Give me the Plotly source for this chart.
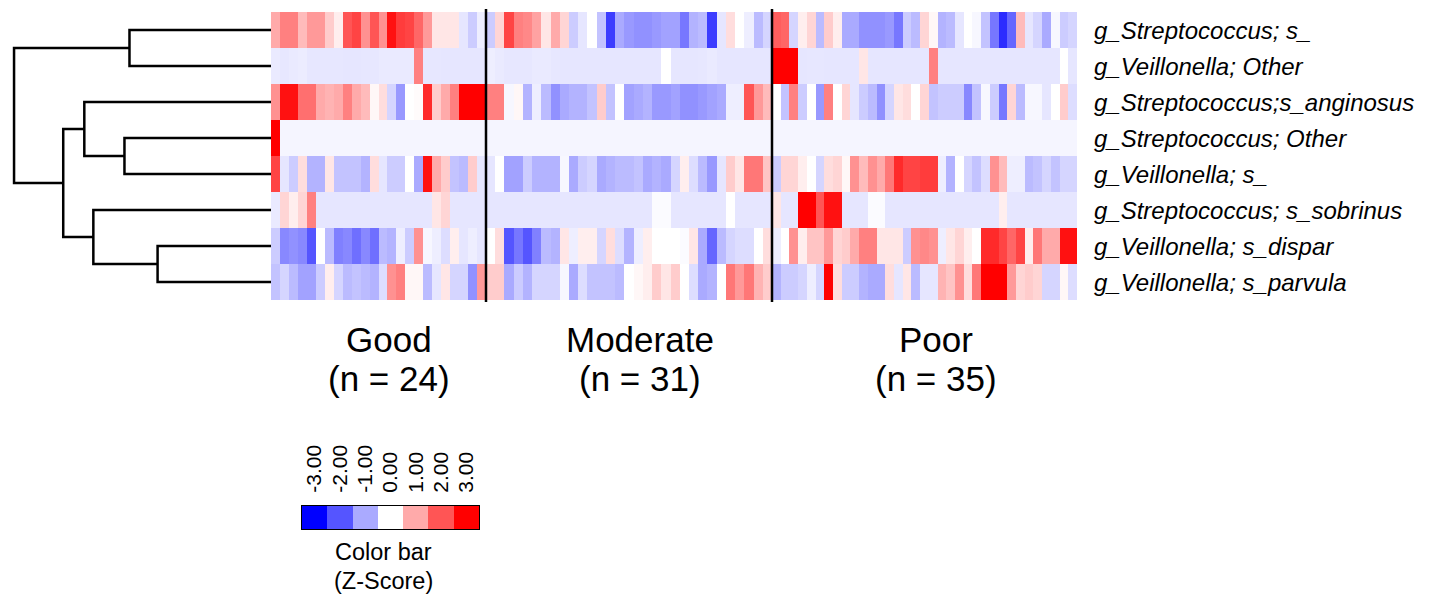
import plotly.graph_objects as go

W, H = 1444, 594

row_labels = [
    "g_Streptococcus; s_",
    "g_Veillonella; Other",
    "g_Streptococcus;s_anginosus",
    "g_Streptococcus; Other",
    "g_Veillonella; s_",
    "g_Streptococcus; s_sobrinus",
    "g_Veillonella; s_dispar",
    "g_Veillonella; s_parvula",
]

group_names = ["Good", "Moderate", "Poor"]
group_sizes = [24, 31, 35]

good = [
    [1.0, 1.5, 1.5, 0.8, 1.2, 1.2, 0.6, 0.2, 2.0, 2.2, 1.3, 2.0, 1.3, 2.8, 2.3, 2.2, 1.8, 1.2, 0.3, 0.3, 0.3, -0.3, -0.6, -0.2],
    [-0.25, -0.28, -0.25, -0.22, -0.28, -0.28, -0.28, -0.28, -0.3, -0.3, -0.28, -0.28, -0.25, -0.25, -0.25, -0.25, 1.5, -0.28, -0.28, -0.3, -0.3, -0.3, -0.3, -0.3],
    [1.3, 2.8, 2.8, 1.7, 1.7, 1.0, 0.9, 1.0, 1.5, 1.0, 0.8, 0.1, 0.4, -0.5, -1.2, 0.0, 0.05, 2.5, 0.6, 1.0, 1.5, 3.0, 3.0, 3.0],
    [3.0, -0.12, -0.12, -0.12, -0.12, -0.12, -0.12, -0.12, -0.12, -0.12, -0.12, -0.12, -0.12, -0.12, -0.12, -0.12, -0.12, -0.12, -0.12, -0.12, -0.12, -0.12, -0.12, -0.12],
    [2.2, -0.3, -0.6, 0.4, -0.9, -0.9, 0.3, -0.7, -0.7, -0.7, -0.9, 0.4, -0.3, -0.6, -0.6, 0.0, -1.0, 2.8, 1.0, 0.6, -0.7, -0.8, 0.6, -0.3],
    [-0.25, 0.5, 0.2, 0.5, 1.5, -0.3, -0.3, -0.3, -0.3, -0.3, -0.3, -0.3, -0.3, -0.3, -0.3, -0.3, -0.3, -0.3, 0.3, 0.5, -0.3, -0.3, -0.3, -0.3],
    [-0.6, -1.4, -1.3, -1.4, -2.0, 0.0, -0.8, -1.5, -1.4, -1.7, -1.4, -1.7, -0.8, -0.9, -0.2, -0.6, 1.3, -0.1, -0.2, -0.4, 0.2, -0.3, -0.2, -0.3],
    [-0.7, -0.5, -0.8, -1.1, -1.1, -0.6, 0.2, -0.5, -0.8, -0.7, -0.8, -0.9, -0.4, 1.3, 1.5, 0.1, 0.1, -0.8, -0.3, 0.3, -0.5, -0.5, -1.3, 1.2],
]

moderate = [
    [-0.6, 0.5, 2.2, 1.5, 1.4, 1.1, 0.3, 1.0, 0.5, -0.6, -0.3, 0.0, -0.7, -2.3, -1.0, -1.2, -1.3, -1.3, -1.2, -1.1, -1.1, -1.6, -0.9, -0.8, -2.3, -0.3, 0.4, 0.0, -0.2, -0.8, -0.5],
    [-0.2, -0.25, -0.28, -0.28, -0.28, -0.25, -0.25, -0.28, -0.3, -0.3, -0.3, -0.3, -0.3, -0.3, -0.3, -0.3, -0.3, -0.3, -0.3, 0.0, -0.3, -0.3, -0.3, -0.28, -0.25, -0.3, -0.3, -0.3, -0.3, -0.3, -0.3],
    [1.5, 1.5, -0.1, 0.1, -0.9, -0.2, -0.8, -1.3, -1.0, -0.9, -0.9, -0.7, 0.6, -0.7, 0.0, -1.1, -1.0, -0.9, -1.2, -1.2, -1.1, -1.3, -1.3, -1.2, -1.1, -1.0, -0.2, -0.2, 2.0, 1.2, 0.8],
    [-0.12, -0.12, -0.12, -0.12, -0.12, -0.12, -0.12, -0.12, -0.12, -0.12, -0.12, -0.12, -0.12, -0.12, -0.12, -0.12, -0.12, -0.12, -0.12, -0.12, -0.12, -0.12, -0.12, -0.12, -0.12, -0.12, -0.12, -0.12, -0.12, -0.12, -0.12],
    [-0.3, 0.0, -1.1, -1.1, -0.6, -0.9, -0.9, -0.9, -0.1, -1.0, -0.6, -0.5, -1.0, -0.9, -0.8, -0.8, -0.7, -1.0, -0.9, -1.0, -0.5, 0.2, -0.4, -0.8, -1.2, -0.3, 0.6, 0.3, 1.6, 1.6, 0.7],
    [-0.3, -0.3, -0.3, -0.3, -0.3, -0.3, -0.3, -0.3, -0.3, -0.3, -0.3, -0.3, -0.3, -0.3, -0.3, -0.3, -0.3, -0.3, -0.05, -0.05, -0.3, -0.3, -0.3, -0.3, -0.3, -0.3, 0.0, -0.3, -0.3, -0.3, -0.3],
    [0.0, 0.4, -2.0, -1.6, -2.0, -1.5, -0.8, -0.9, 0.3, -0.2, 0.2, 0.2, -0.5, 0.4, -0.4, -0.9, -0.2, 0.2, 0.0, 0.0, 0.0, -0.05, 0.3, -1.0, -1.8, -0.8, -0.5, -0.4, -0.4, 0.0, 0.4],
    [0.6, 0.6, -1.0, -0.6, -0.9, -0.5, -0.5, -0.5, -0.1, -1.0, -0.4, -0.7, -0.7, -0.7, -0.8, 0.0, 0.1, 0.2, 0.6, 0.3, 0.6, 0.0, -0.4, -1.0, -0.9, 0.0, 1.6, 1.2, 1.6, 0.9, 0.6],
]

poor = [
    [1.9, 1.8, -0.5, 0.2, 0.5, -0.8, 0.6, 0.2, -1.0, -1.0, -1.3, -1.3, -1.3, -1.2, -1.6, -0.6, -0.8, 0.5, 0.1, -0.9, -0.8, -0.3, 0.0, -0.1, -0.7, -1.6, -2.5, -1.8, 0.8, -0.3, -0.5, -1.0, -0.1, -0.6, -0.5],
    [3.0, 3.0, 3.0, -0.3, -0.28, -0.28, -0.3, -0.3, -0.3, -0.3, 0.3, -0.3, -0.3, -0.3, -0.3, -0.3, -0.3, -0.3, 1.5, -0.3, -0.3, -0.3, -0.3, -0.3, -0.3, -0.3, -0.3, -0.3, -0.3, -0.3, -0.3, -0.3, -0.3, 0.0, -0.3],
    [0.0, -0.7, 1.5, -0.6, 0.0, -1.2, 1.5, 0.0, 0.5, -0.3, -0.6, -0.8, -1.3, -0.5, 0.3, 0.4, 0.0, 0.5, -0.7, -0.6, -0.6, -0.6, -1.4, -0.7, -0.1, -0.6, -1.6, 0.5, -0.8, -0.1, -0.1, -0.3, 0.0, 0.6, -0.4],
    [-0.12, -0.12, -0.12, -0.12, -0.12, -0.12, -0.12, -0.12, -0.12, -0.12, -0.12, -0.12, -0.12, -0.12, -0.12, -0.12, -0.12, -0.12, -0.12, -0.12, -0.12, -0.12, -0.12, -0.12, -0.12, -0.12, -0.12, -0.12, -0.12, -0.12, -0.12, -0.12, -0.12, -0.12, -0.12],
    [-0.6, 0.5, 0.5, 0.2, 0.0, -0.5, 0.4, 0.5, 0.1, 1.3, 0.8, 1.3, 1.0, 1.6, 2.5, 2.2, 2.2, 2.3, 2.3, -0.2, -0.9, 0.0, -0.5, -0.7, -0.4, 1.3, 0.8, -0.2, -0.2, -0.8, -0.7, -0.5, -0.7, -0.5, -0.5],
    [0.3, -0.3, -0.3, 3.0, 3.0, 2.0, 2.8, 2.8, -0.3, -0.3, -0.3, -0.05, -0.05, -0.3, -0.3, -0.3, -0.3, -0.3, -0.3, -0.3, -0.3, -0.3, -0.3, -0.3, -0.3, -0.3, 0.2, -0.3, -0.3, -0.3, -0.3, -0.3, -0.3, -0.3, -0.3],
    [-0.2, 0.0, 1.3, 0.2, 0.7, 0.7, 1.2, 0.5, 0.6, 1.0, 1.5, 1.5, 0.3, 0.3, 0.3, -0.6, 1.3, 1.4, 1.3, -0.2, 0.3, 0.5, 0.2, 0.0, 2.5, 2.5, 2.2, 1.8, 2.2, 0.2, 1.6, 1.0, 1.0, 2.8, 2.8],
    [-0.9, -0.6, -0.6, -0.5, -0.2, -0.5, 3.0, 0.4, -0.6, -0.6, -0.9, -1.0, -1.0, 0.4, -0.3, 0.3, -0.8, -0.3, -0.3, 0.9, 0.7, 1.3, 0.4, 1.6, 3.0, 3.0, 3.0, 1.2, 0.5, 0.6, 0.5, -0.5, -0.5, 0.1, -0.4],
]

# dendrogram: merges (child_a, child_b, height); leaves are 0..7, new clusters 8..
merges = [
    (0, 1, 1.41),
    (3, 4, 1.46),
    (2, 9, 1.86),
    (6, 7, 1.13),
    (5, 11, 1.77),
    (10, 12, 2.07),
    (8, 13, 2.56),
]

cb_values = [-3, -2, -1, 0, 1, 2, 3]
cb_ticks = ["-3.00", "-2.00", "-1.00", "0.00", "1.00", "2.00", "3.00"]

colorscale = [[0.0, "rgb(0,0,255)"], [0.5, "rgb(255,255,255)"], [1.0, "rgb(255,0,0)"]]

def px(x):
    return x / W

def py(y):
    return 1 - y / H

# layout pixel geometry (styling)
heat_top, heat_bot = 12, 300
group_edges_px = [271, 486, 772, 1077]
ydom = [py(heat_bot), py(heat_top)]

fig = go.Figure()

groups = [good, moderate, poor]
xaxis_names = ["x", "x2", "x3"]
for g, (data, xa, n) in enumerate(zip(groups, xaxis_names, group_sizes)):
    fig.add_trace(go.Heatmap(
        z=data,
        x=list(range(n)),
        y=list(range(len(row_labels))),
        colorscale=colorscale, zmin=-3, zmax=3,
        showscale=False, xaxis=xa, yaxis="y",
        hoverinfo="skip",
    ))

# dendrogram lines
n_leaves = len(row_labels)
pos = {i: float(i) for i in range(n_leaves)}
hgt = {i: 0.0 for i in range(n_leaves)}
dx, dy = [], []
for k, (a, b, h) in enumerate(merges):
    cid = n_leaves + k
    dx += [hgt[a], h, h, hgt[b], None]
    dy += [pos[a], pos[a], pos[b], pos[b], None]
    pos[cid] = (pos[a] + pos[b]) / 2
    hgt[cid] = h
fig.add_trace(go.Scatter(
    x=dx, y=dy, mode="lines", xaxis="x4", yaxis="y",
    line=dict(color="black", width=2.5), hoverinfo="skip", showlegend=False,
))

# color bar legend as its own small heatmap
fig.add_trace(go.Heatmap(
    z=[cb_values], x=cb_values, y=[0],
    colorscale=colorscale, zmin=-3, zmax=3, showscale=False,
    xaxis="x5", yaxis="y2", hoverinfo="skip",
))

hidden = dict(showgrid=False, zeroline=False, showticklabels=False, ticks="", showline=False)
layout = dict(
    width=W, height=H,
    margin=dict(l=0, r=0, t=0, b=0),
    paper_bgcolor="white", plot_bgcolor="white",
    showlegend=False,
    font=dict(family="Liberation Sans, Arial, sans-serif", color="black"),
    yaxis=dict(domain=ydom, range=[n_leaves - 0.5, -0.5], **hidden),
    xaxis4=dict(domain=[0, px(group_edges_px[0])], range=[2.7, 0], anchor="y", **hidden),
    xaxis5=dict(domain=[px(302), px(479)], range=[-3.5, 3.5], anchor="y2",
                side="top", tickmode="array", tickvals=cb_values, ticktext=cb_ticks,
                tickangle=-90, ticks="outside", ticklen=8, tickcolor="rgba(0,0,0,0)",
                showgrid=False, zeroline=False,
                showline=True, mirror=True, linecolor="black", linewidth=1,
                tickfont=dict(size=21, color="black")),
    yaxis2=dict(domain=[py(529), py(506)], range=[-0.5, 0.5], anchor="x5",
                showgrid=False, zeroline=False, showticklabels=False, ticks="",
                showline=True, mirror=True, linecolor="black", linewidth=1),
)
for g, xa in enumerate(xaxis_names):
    key = "xaxis" if xa == "x" else "xaxis" + xa[1:]
    layout[key] = dict(domain=[px(group_edges_px[g]), px(group_edges_px[g + 1])],
                       range=[-0.5, group_sizes[g] - 0.5], anchor="y", **hidden)
fig.update_layout(**layout)

# group divider lines
for e in group_edges_px[1:-1]:
    fig.add_shape(type="line", xref="paper", yref="paper",
                  x0=px(e), x1=px(e), y0=py(302), y1=py(9),
                  line=dict(color="black", width=2.5))

# row labels
for i, lab in enumerate(row_labels):
    fig.add_annotation(x=px(1092), y=i, xref="paper", yref="y", text=lab,
                       showarrow=False, xanchor="left", yanchor="middle",
                       font=dict(size=24, style="italic", color="black"))

# group labels
group_centers_px = [389, 640, 936]
for name, n, cx in zip(group_names, group_sizes, group_centers_px):
    fig.add_annotation(x=px(cx), y=py(340), xref="paper", yref="paper", text=name,
                       showarrow=False, xanchor="center", yanchor="middle",
                       font=dict(size=35))
    fig.add_annotation(x=px(cx), y=py(378), xref="paper", yref="paper",
                       text=f"(n = {n})", showarrow=False, xanchor="center",
                       yanchor="middle", font=dict(size=35))

# color bar title
fig.add_annotation(x=px(383), y=py(552), xref="paper", yref="paper", text="Color bar",
                   showarrow=False, xanchor="center", yanchor="middle", font=dict(size=23.5))
fig.add_annotation(x=px(383), y=py(581), xref="paper", yref="paper", text="(Z-Score)",
                   showarrow=False, xanchor="center", yanchor="middle", font=dict(size=23.5))

fig.write_html("out.html", config={"displayModeBar": False},
               post_script="document.body.style.margin='0';document.body.style.overflow='hidden';")
